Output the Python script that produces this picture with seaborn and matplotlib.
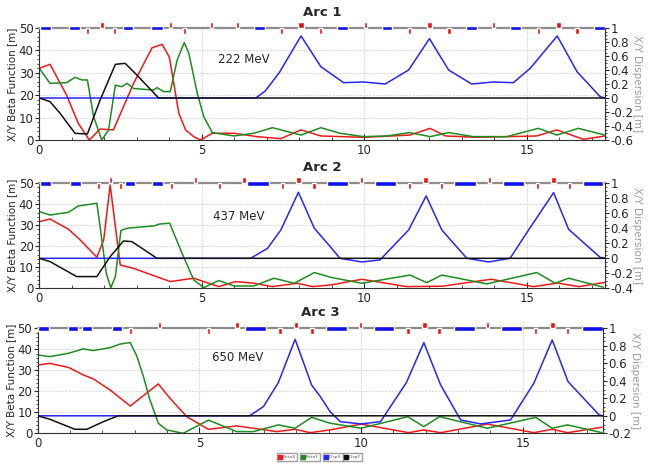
import numpy as np
import matplotlib
matplotlib.use("Agg")
import matplotlib.pyplot as plt
from matplotlib.ticker import MultipleLocator, FuncFormatter
from matplotlib.lines import Line2D
import seaborn as sns

# ---- Arc 1 (222 MeV) ----
arc1_bx_s = [0, 0.33, 0.84, 1.2, 1.54, 1.87, 2.28, 2.9, 3.47, 3.78, 4.0, 4.14, 4.29, 4.5, 4.75, 4.96,
             5.32, 5.99, 6.7, 7.43, 8.05, 8.66, 9.97, 11.4, 12.02, 12.5, 13.46, 14.38, 15.3, 15.92, 16.74, 17.4]
arc1_bx = [32, 33.8, 20, 7.4, 0, 4.9, 4.5, 25.3, 41.2, 42.7, 37, 25, 12, 4.5, 1.5, 0,
           3, 3, 1.5, 0.6, 4.5, 1.8, 1.2, 2.2, 5.2, 1.8, 1.2, 1.5, 1.8, 4.5, 0.3, 1.8]
arc1_by_s = [0, 0.33, 0.84, 1.1, 1.31, 1.48, 1.67, 1.92, 2.13, 2.34, 2.54, 2.7, 2.9, 3.52, 3.62, 3.83,
             4.03, 4.24, 4.46, 4.6, 4.86, 5.06, 5.32, 5.99, 6.6, 7.17, 8.05, 8.66, 9.25, 9.97, 10.69,
             11.39, 12.02, 12.59, 13.35, 14.38, 15.35, 15.92, 16.58, 17.4]
arc1_by = [32, 25.3, 25.6, 28, 26.8, 26.8, 10.4, 0, 4.5, 24.5, 23.8, 25.3, 23, 22.3, 23.4, 21.6,
           21.6, 35.7, 43.5, 38.7, 20.8, 10.4, 3.3, 1.8, 3, 5.5, 2.2, 5.5, 3, 1.5, 1.8,
           3.3, 1.5, 3.3, 1.5, 1.5, 5.2, 2.2, 5.2, 2.2]
arc1_dx_s = [0, 6.66, 6.95, 7.38, 8.05, 8.66, 9.36, 9.97, 10.64, 11.36, 12.0, 12.59, 13.3, 13.97,
             14.58, 15.1, 15.93, 16.54, 17.25, 17.4]
arc1_dx = [0, 0, 0.1, 0.362, 0.886, 0.448, 0.219, 0.229, 0.2, 0.4, 0.848, 0.4, 0.2, 0.229,
           0.219, 0.424, 0.886, 0.376, 0.019, 0]
arc1_dy_s = [0, 0.33, 0.64, 1.1, 1.48, 1.87, 2.34, 2.64, 3.0, 3.67, 17.4]
arc1_dy = [0, -0.052, -0.219, -0.505, -0.514, -0.029, 0.481, 0.495, 0.329, 0, 0]
arc1_dipoles = [(0.02, 0.36), (0.92, 1.26), (2.56, 2.89), (3.45, 3.79), (6.6, 6.93), (9.17, 9.49),
                (10.54, 10.86), (13.13, 13.46), (14.49, 14.82), (17.07, 17.4)]
arc1_quads_up = [(1.87, 1.98), (3.98, 4.07), (5.25, 5.34), (6.04, 6.13), (7.97, 8.15), (9.98, 10.08),
                 (11.92, 12.07), (13.93, 14.03), (15.89, 16.04)]
arc1_quads_down = [(1.44, 1.54), (2.26, 2.36), (4.42, 4.52), (7.41, 7.51), (8.61, 8.71), (11.33, 11.44),
                   (12.55, 12.66), (15.3, 15.4), (16.49, 16.6)]

# ---- Arc 2 (437 MeV) ----
arc2_bx_s = [0, 0.33, 0.9, 1.26, 1.77, 1.98, 2.18, 2.34, 2.49, 2.9, 4.03, 4.75, 5.52, 6.04, 6.6, 7.17,
             7.94, 8.4, 8.97, 9.92, 11.3, 12.4, 13.9, 15.2, 15.95, 16.6, 17.4]
arc2_bx = [31.7, 33, 28.1, 23, 14.8, 23, 49.2, 29.4, 11.1, 9.5, 3.2, 4.8, 0.8, 3.2, 2.4, 0.8,
           2.4, 0.8, 1.6, 4.3, 0.8, 1.0, 4.3, 0.8, 2.5, 0.8, 2.8]
arc2_by_s = [0, 0.33, 0.9, 1.2, 1.77, 1.87, 2.06, 2.2, 2.34, 2.51, 2.7, 3.52, 3.7, 4.01, 4.39, 4.75,
             5.06, 5.52, 5.99, 6.6, 7.22, 7.84, 8.46, 8.97, 9.92, 11.4, 11.92, 12.38, 13.77, 15.3,
             15.87, 16.28, 17.35]
arc2_by = [36.5, 34.9, 36.2, 39.2, 40.5, 29.4, 7.1, 0.3, 5.6, 27.5, 28.6, 29.7, 30.6, 31, 16.7, 4,
           0.3, 3.7, 1.1, 1.1, 4.8, 2.4, 7.5, 5.2, 2.4, 6.3, 2.7, 6.3, 2.1, 7.5,
           2.4, 4.8, 0.5]
arc2_dx_s = [0, 6.5, 7.02, 7.43, 7.97, 8.46, 8.9, 9.25, 9.92, 10.48, 11.36, 11.9, 12.38, 13.15, 13.82,
             14.48, 15.05, 15.82, 16.28, 17.25, 17.4]
arc2_dx = [0, 0, 0.133, 0.378, 0.88, 0.4, 0.18, 0.0, -0.049, -0.022, 0.378, 0.831, 0.378, 0, -0.049,
           0, 0.378, 0.876, 0.387, 0.013, 0]
arc2_dy_s = [0, 0.33, 1.15, 1.77, 2.18, 2.59, 2.85, 3.62, 17.4]
arc2_dy = [0, -0.044, -0.244, -0.244, 0.022, 0.231, 0.222, 0, 0]
arc2_dipoles = [(0.02, 0.35), (0.93, 1.28), (2.64, 2.95), (3.47, 3.8), (6.4, 7.07), (8.84, 9.51),
                (10.33, 10.98), (12.77, 13.44), (14.26, 14.91), (16.71, 17.35)]
arc2_quads_up = [(2.13, 2.23), (4.75, 4.86), (6.24, 6.35), (7.89, 8.05), (9.87, 9.97), (11.8, 11.97),
                 (13.8, 13.9), (15.74, 15.89)]
arc2_quads_down = [(1.77, 1.87), (2.44, 2.54), (4.01, 4.12), (5.49, 5.6), (7.43, 7.53), (8.4, 8.51),
                   (11.33, 11.44), (12.33, 12.43), (15.28, 15.38), (16.25, 16.35)]

# ---- Arc 3 (650 MeV) ----
arc3_bx_s = [0, 0.38, 0.95, 1.41, 1.72, 2.24, 2.86, 3.73, 4.09, 4.61, 5.28, 6.15, 6.67, 7.39, 7.96,
             8.42, 9.04, 10.0, 11.47, 11.94, 12.46, 13.9, 15.34, 15.91, 16.38, 17.45]
arc3_bx = [32.5, 33.3, 31.4, 27.8, 25.9, 20.6, 13, 23.5, 16.7, 7.9, 1.9, 3.5, 2.4, 0.8, 1.9,
           0.3, 1.6, 4.4, 0.3, 1.6, 0.3, 4.4, 0.3, 1.9, 0.3, 2.9]
arc3_by_s = [0, 0.38, 0.95, 1.41, 1.72, 2.24, 2.55, 2.86, 3.06, 3.27, 3.47, 3.73, 3.99, 4.5, 5.28,
             6.15, 6.67, 7.44, 7.96, 8.47, 9.04, 10.0, 11.44, 11.94, 12.43, 13.9, 15.4, 15.91,
             16.38, 17.45]
arc3_by = [37.3, 36.5, 38.1, 40.2, 39.4, 40.8, 42.5, 43.2, 37, 27, 15.9, 4.8, 1.6, 0, 6.3,
           0.8, 0.8, 4, 2.4, 7.6, 4.8, 2.4, 7.9, 3.2, 7.9, 2.4, 7.6, 2.4,
           4, 0.3]
arc3_dx_s = [0, 6.55, 6.98, 7.44, 7.96, 8.47, 8.74, 9.04, 9.36, 10.0, 10.6, 11.4, 11.94, 12.46, 13.08,
             13.7, 14.62, 15.34, 15.91, 16.4, 17.36, 17.48]
arc3_dx = [0, 0, 0.105, 0.379, 0.874, 0.352, 0.219, 0.048, -0.067, -0.093, -0.067, 0.379, 0.836,
           0.352, -0.048, -0.093, -0.048, 0.371, 0.867, 0.39, 0.01, 0]
arc3_dy_s = [0, 0.38, 1.15, 1.52, 2.03, 2.49, 17.48]
arc3_dy = [0, -0.04, -0.154, -0.154, -0.067, 0, 0]
arc3_dipoles = [(0.0, 0.35), (0.93, 1.26), (1.36, 1.69), (2.29, 2.62), (6.41, 7.06), (8.9, 9.57),
                (10.39, 11.03), (12.87, 13.51), (14.34, 14.99), (16.82, 17.47)]
arc3_quads_up = [(3.71, 3.81), (6.11, 6.22), (7.91, 8.06), (9.93, 10.03), (11.89, 12.04),
                 (13.87, 13.97), (15.84, 15.99)]
arc3_quads_down = [(2.81, 2.92), (5.22, 5.32), (7.44, 7.55), (8.42, 8.53), (11.4, 11.5),
                   (12.36, 12.47), (15.34, 15.44), (16.33, 16.44)]

RED, GREEN, BLUE, BLACK = "#f01818", "#1e8c1e", "#2626f2", "#111111"
W, H = 648, 466

sns.set_style("ticks")
plt.rcParams['font.family'] = ['DejaVu Sans']

fig = plt.figure(figsize=(W / 100, H / 100), dpi=100)


def draw_arc(box, xmax, title, energy, energy_pos, disp_lo, bx_s, bx, by_s, by, dx_s, dx, dy_s, dy,
             dipoles, quads_up, quads_down):
    left, right, top, bottom = box
    ax = fig.add_axes([left / W, 1 - bottom / H, (right - left) / W, (bottom - top) / H])
    ax2 = ax.twinx()

    sns.lineplot(x=bx_s, y=bx, ax=ax, color=RED, linewidth=1.1)
    sns.lineplot(x=by_s, y=by, ax=ax, color=GREEN, linewidth=1.1)
    sns.lineplot(x=dx_s, y=dx, ax=ax2, color=BLUE, linewidth=1.1)
    sns.lineplot(x=dy_s, y=dy, ax=ax2, color=BLACK, linewidth=1.1)

    ax.set_xlim(0, xmax)
    ax.set_ylim(0, 50)
    ax2.set_ylim(disp_lo, 1)

    ax.xaxis.set_major_locator(MultipleLocator(5))
    ax.xaxis.set_minor_locator(MultipleLocator(1))
    ax.yaxis.set_major_locator(MultipleLocator(10))
    ax.yaxis.set_minor_locator(MultipleLocator(2))
    ax2.set_yticks(np.round(np.arange(disp_lo, 1.001, 0.2), 1))
    ax2.yaxis.set_minor_locator(MultipleLocator(0.05))
    ax2.yaxis.set_major_formatter(FuncFormatter(lambda v, p: f"{v:g}"))

    ax.grid(True, which='major', color='#dcdcdc', linewidth=0.8, linestyle=(0, (2, 1)))
    ax.tick_params(axis='x', which='both', direction='in', labelsize=8.5, pad=3)
    ax.tick_params(axis='x', which='major', length=4)
    ax.tick_params(axis='x', which='minor', length=2.5)
    ax.tick_params(axis='y', which='major', labelsize=8.5, length=3, pad=1)
    ax.tick_params(axis='y', which='minor', length=1.5, width=0.6)
    ax2.tick_params(axis='y', which='major', labelsize=8.5, length=3, pad=1)
    ax2.tick_params(axis='y', which='minor', length=1.5, width=0.6)

    ax.set_ylabel("X/Y Beta Function [m]", fontsize=7.5, labelpad=1)
    ax2.set_ylabel("X/Y Dispersion [m]", fontsize=7.5, color='#9a9a9a', rotation=270, labelpad=6)
    ax.set_xlabel("")
    ax2.set_xlabel("")

    for sp in ['top', 'left', 'bottom']:
        ax2.spines[sp].set_visible(False)
    ax.spines['right'].set_visible(False)
    for sp in ['left', 'bottom']:
        ax.spines[sp].set_color('#333333')
    ax2.spines['right'].set_color('#333333')
    ax.spines['top'].set_color('#8c8c8c')
    ax.spines['top'].set_linewidth(1.6)

    # lattice strip along the top edge
    unit = 50 / (bottom - top)
    qh = 6 * unit
    dh = 2.4 * unit
    ax.broken_barh([(a, b - a) for a, b in dipoles], (50 - dh, 2 * dh),
                   facecolors='#1010e8', clip_on=False, zorder=6)
    ax.broken_barh([(a, b - a) for a, b in quads_up], (50, qh),
                   facecolors='#ee1010', clip_on=False, zorder=6)
    ax.broken_barh([(a, b - a) for a, b in quads_down], (50 - qh, qh),
                   facecolors='#ee1010', clip_on=False, zorder=6)

    ax.text(energy_pos[0], energy_pos[1], energy, fontsize=8.5, va='center', ha='left')
    ax.set_title(title, fontsize=9.5, fontweight='bold', pad=9)
    return ax


draw_arc((39.3, 605, 28, 140), 17.4, "Arc 1", "222 MeV", (5.5, 36), -0.6,
         arc1_bx_s, arc1_bx, arc1_by_s, arc1_by, arc1_dx_s, arc1_dx, arc1_dy_s, arc1_dy,
         arc1_dipoles, arc1_quads_up, arc1_quads_down)
draw_arc((39.3, 605, 183.3, 288.3), 17.4, "Arc 2", "437 MeV", (5.35, 34), -0.4,
         arc2_bx_s, arc2_bx, arc2_by_s, arc2_by, arc2_dx_s, arc2_dx, arc2_dy_s, arc2_dy,
         arc2_dipoles, arc2_quads_up, arc2_quads_down)
draw_arc((37.7, 603, 328.3, 433.3), 17.48, "Arc 3", "650 MeV", (5.4, 36.3), -0.2,
         arc3_bx_s, arc3_bx, arc3_by_s, arc3_by, arc3_dx_s, arc3_dx, arc3_dy_s, arc3_dy,
         arc3_dipoles, arc3_quads_up, arc3_quads_down)

# legend: one small box per entry
legend_names = ["BetaX", "BetaY", "DispX", "DispY"]
legend_colors = [RED, GREEN, BLUE, BLACK]
legend_x = [287, 310, 333, 352.5]
for name, col, lx in zip(legend_names, legend_colors, legend_x):
    h = Line2D([], [], marker='s', linestyle='none', color=col, markersize=2.2)
    fig.legend([h], [name], loc='center', bbox_to_anchor=(lx / W, 1 - 457 / H), fontsize=3.2,
               frameon=True, fancybox=False, edgecolor='#888888', handlelength=0.6,
               handletextpad=0.2, borderpad=0.35, labelcolor='#555555')

fig.savefig("out.png", dpi=100)
